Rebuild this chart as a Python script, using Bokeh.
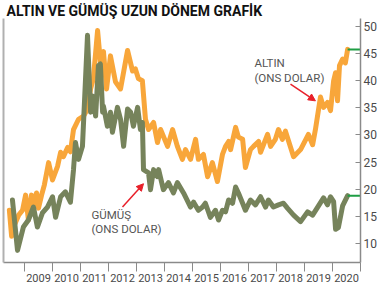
from bokeh.plotting import figure
from bokeh.models import Range1d, FixedTicker, LinearAxis, Label, Arrow, NormalHead
from bokeh.embed import file_html
from bokeh.resources import INLINE

FONT = "Roboto"

# --- data (decimal years, ounce prices as drawn on the shared axis) ---
gold_t = [2008.46, 2008.54, 2008.64, 2008.79, 2008.93, 2009.04, 2009.14, 2009.25, 2009.32, 2009.43,
          2009.50, 2009.61, 2009.71, 2009.86, 2010.00, 2010.18, 2010.29, 2010.39, 2010.54, 2010.64,
          2010.75, 2010.93, 2011.11, 2011.25, 2011.36, 2011.46, 2011.61, 2011.71, 2011.82, 2011.93,
          2012.07, 2012.25, 2012.43, 2012.68, 2012.86, 2012.96, 2013.07, 2013.21, 2013.32, 2013.43,
          2013.61, 2013.75, 2013.86, 2014.11, 2014.29, 2014.46, 2014.64, 2014.75, 2014.93, 2015.11,
          2015.21, 2015.39, 2015.54, 2015.71, 2015.89, 2016.07, 2016.18, 2016.29, 2016.36, 2016.54,
          2016.64, 2016.79, 2016.89, 2017.07, 2017.18, 2017.36, 2017.43, 2017.68, 2017.79, 2017.96,
          2018.07, 2018.21, 2018.32, 2018.61, 2018.86, 2019.14, 2019.29, 2019.39, 2019.57, 2019.68,
          2019.82, 2019.93, 2020.04, 2020.11, 2020.18, 2020.25, 2020.36, 2020.46, 2020.54]
gold_v = [16.1, 11.3, 13.4, 15.2, 16.1, 18.9, 14.3, 18.9, 17.1, 19.3,
          16.5, 18.9, 20.8, 24.9, 21.7, 24.2, 26.8, 26.0, 27.7, 26.9,
          31.0, 32.9, 33.5, 34.8, 38.5, 40.4, 49.3, 43.5, 45.4, 38.5,
          44.6, 39.8, 38.5, 45.6, 41.8, 42.2, 40.4, 40.0, 32.9, 31.0,
          32.3, 28.6, 31.0, 27.9, 31.0, 27.9, 25.5, 27.3, 25.5, 29.2,
          25.5, 26.4, 22.3, 24.9, 21.4, 26.4, 27.9, 28.8, 27.3, 31.4,
          29.6, 29.2, 24.0, 27.3, 27.9, 28.8, 26.8, 30.1, 27.9, 29.2,
          31.0, 29.2, 30.7, 26.0, 27.3, 30.1, 28.2, 31.0, 37.0, 35.1,
          36.0, 34.5, 40.0, 41.5, 36.3, 42.8, 44.0, 43.3, 45.8]

silver_t = [2008.57, 2008.75, 2008.96, 2009.14, 2009.32, 2009.46, 2009.64, 2009.82, 2010.00, 2010.11,
            2010.29, 2010.46, 2010.64, 2010.75, 2010.82, 2010.93, 2011.07, 2011.25, 2011.36, 2011.43,
            2011.54, 2011.64, 2011.71, 2011.79, 2011.82, 2011.96, 2012.07, 2012.14, 2012.32, 2012.43,
            2012.54, 2012.68, 2012.79, 2012.89, 2013.04, 2013.14, 2013.21, 2013.25, 2013.43, 2013.50,
            2013.61, 2013.75, 2013.79, 2013.96, 2014.14, 2014.32, 2014.46, 2014.68, 2014.93, 2015.04,
            2015.21, 2015.36, 2015.46, 2015.64, 2015.82, 2015.93, 2016.07, 2016.18, 2016.29, 2016.43,
            2016.54, 2016.64, 2016.79, 2016.89, 2017.07, 2017.25, 2017.43, 2017.61, 2017.71, 2017.89,
            2018.07, 2018.25, 2018.39, 2018.61, 2018.86, 2019.11, 2019.29, 2019.46, 2019.68, 2019.82,
            2019.93, 2020.04, 2020.11, 2020.21, 2020.36, 2020.54]
silver_v = [18.0, 8.7, 13.0, 14.3, 16.7, 13.0, 15.6, 16.7, 18.6, 14.8,
            18.6, 19.5, 17.6, 23.6, 28.6, 25.5, 27.9, 48.4, 34.2, 37.2,
            33.5, 42.8, 43.1, 34.2, 35.3, 31.6, 34.2, 30.5, 35.1, 32.9,
            27.9, 34.8, 34.2, 31.6, 35.1, 31.0, 32.3, 23.6, 23.0, 19.9,
            23.6, 22.3, 23.6, 19.9, 21.2, 19.3, 21.2, 19.3, 16.7, 17.6,
            16.1, 16.7, 17.4, 14.8, 16.1, 14.3, 16.1, 15.8, 18.0, 17.4,
            20.4, 19.3, 17.4, 16.1, 18.0, 17.1, 18.6, 16.7, 18.0, 16.7,
            17.1, 17.4, 16.5, 15.2, 14.0, 15.8, 15.2, 16.6, 18.4, 17.1,
            18.6, 17.7, 12.6, 12.9, 16.9, 18.8]

year_labels = ["2009", "2010", "2011", "2012", "2013", "2014", "2015", "2016", "2017", "2018", "2019", "2020"]
year_starts = [2009 + i for i in range(13)]
y_ticks = [10, 15, 20, 25, 30, 35, 40, 45, 50]

GOLD = "#F8A63A"
SILVER = "#76835B"
GREEN = "#1E9E44"
AXIS = "#8a8a8a"
TXT = "#4a4a4a"

p = figure(width=381, height=291, output_backend="svg", toolbar_location=None,
           x_range=Range1d(2008.25, 2021.0), y_range=Range1d(6.46, 51.5),
           y_axis_location=None, x_axis_location=None,
           min_border_left=3, min_border_right=21, min_border_top=0, min_border_bottom=29)
p.outline_line_color = None
p.xgrid.visible = False
p.ygrid.visible = False
p.background_fill_color = "white"

p.title.text = "ALTIN VE GÜMÜŞ UZUN DÖNEM GRAFİK"
p.title.text_font = FONT
p.title.text_font_size = "14px"
p.title.text_font_style = "bold"
p.title.text_color = "#111111"
p.title.offset = 3
p.title.standoff = 0

# lines
p.line(gold_t, gold_v, line_color=GOLD, line_width=5, line_join="round", line_cap="round")
p.line(silver_t, silver_v, line_color=SILVER, line_width=5, line_join="round", line_cap="round")

# green end markers to the axis
p.segment(x0=[gold_t[-1], silver_t[-1]], y0=[gold_v[-1], silver_v[-1]],
          x1=[2021.0, 2021.0], y1=[gold_v[-1], silver_v[-1]], line_color=GREEN, line_width=2)

# right axis
ya = LinearAxis(ticker=FixedTicker(ticks=y_ticks))
ya.axis_line_color = AXIS
ya.axis_line_width = 1.5
ya.major_tick_in = 5
ya.major_tick_out = 0
ya.major_tick_line_color = AXIS
ya.minor_tick_line_color = None
ya.major_label_text_font = FONT
ya.major_label_text_font_size = "12px"
ya.major_label_text_color = TXT
ya.major_label_standoff = 3
p.add_layout(ya, "right")

# bottom axis: labels mid-year, ticks at year starts
xa = LinearAxis(ticker=FixedTicker(ticks=[y + 0.5 for y in year_starts[:-1]], minor_ticks=year_starts))
xa.major_label_overrides = {y + 0.5: lab for y, lab in zip(year_starts[:-1], year_labels)}
xa.axis_line_color = AXIS
xa.axis_line_width = 1.5
xa.major_tick_line_color = None
xa.minor_tick_line_color = AXIS
xa.minor_tick_in = 0
xa.minor_tick_out = 9
xa.major_label_text_font = FONT
xa.major_label_text_font_size = "11px"
xa.major_label_text_color = TXT
xa.major_label_standoff = 2
p.add_layout(xa, "below")

# left frame line
la = LinearAxis(ticker=FixedTicker(ticks=[]))
la.axis_line_color = "#b0b0b0"
la.axis_line_width = 2
la.major_label_text_font_size = "0px"
p.add_layout(la, "left")

# annotations
for txt, x, y in [("ALTIN", 2017.21, 44.6), ("(ONS DOLAR)", 2017.21, 41.9),
                  ("GÜMÜŞ", 2011.39, 16.6), ("(ONS DOLAR)", 2011.39, 13.9)]:
    p.add_layout(Label(x=x, y=y, text=txt, text_font=FONT, text_font_size="11.5px",
                       text_color="#555555", text_baseline="top", text_align="left"))

for x0, y0, x1, y1 in [(2018.5, 39.4, 2019.39, 36.3), (2012.5, 16.7, 2013.25, 21.0)]:
    p.add_layout(Arrow(x_start=x0, y_start=y0, x_end=x1, y_end=y1, line_color="#E8202A", line_width=1.5,
                       end=NormalHead(size=7, fill_color="#E8202A", line_color="#E8202A")))

open("out.html", "w").write(file_html(p, INLINE))
